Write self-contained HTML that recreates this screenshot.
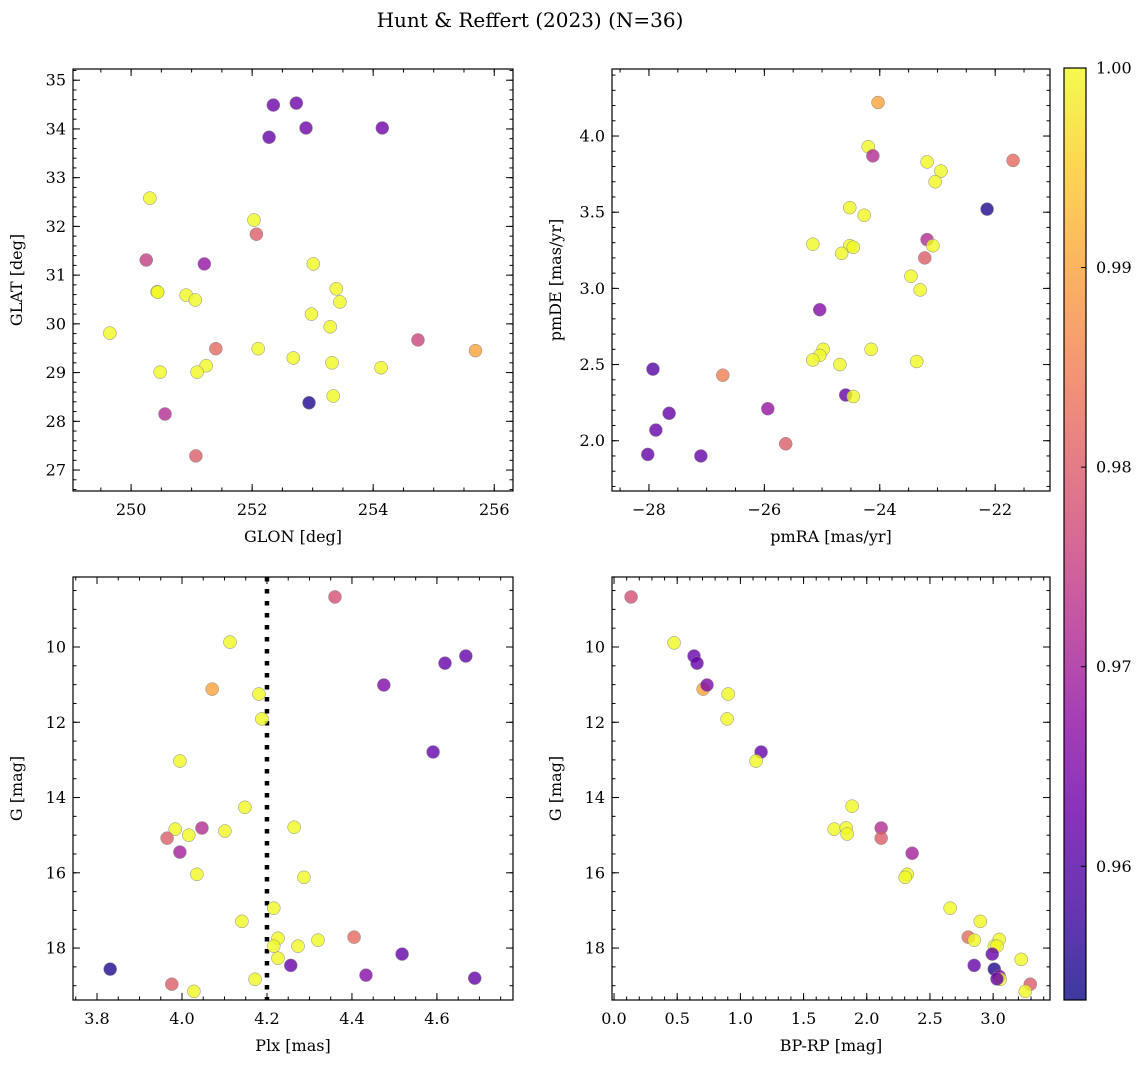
<!DOCTYPE html>
<html><head><meta charset="utf-8"><style>
html,body{margin:0;padding:0;background:#fff}
svg{display:block;font-family:"DejaVu Serif","Liberation Serif",serif}
</style></head><body>
<svg id="fig" width="1148" height="1068" viewBox="0 0 1148 1068" xmlns="http://www.w3.org/2000/svg">
<text x="530" y="27" text-anchor="middle" font-size="20">Hunt &amp; Reffert (2023) (N=36)</text>
</svg>
<script>
// Panel 1: GLON vs GLAT
const glon1=[252.35,252.73,252.28,252.89,254.15,250.31,252.03,252.07,250.25,251.21,253.01,250.43,250.44,250.91,251.06,253.39,253.45,252.98,253.29,249.65,254.74,255.69,251.40,252.10,252.68,253.32,251.24,254.13,250.48,251.09,253.34,252.94,250.56,251.07];
const glat1=[34.49,34.53,33.83,34.02,34.02,32.58,32.13,31.84,31.31,31.23,31.23,30.66,30.65,30.59,30.49,30.72,30.45,30.20,29.94,29.81,29.67,29.45,29.49,29.49,29.30,29.20,29.14,29.10,29.01,29.01,28.52,28.38,28.15,27.29];
const prob1=[0.963,0.963,0.962,0.963,0.963,1,1,0.98,0.975,0.968,1,1,1,1,1,1,1,1,1,1,0.976,0.99,0.982,1,1,1,1,1,1,1,1,0.955,0.972,0.98];
// Panel 2: pmRA vs pmDE
const pmra2=[-24.03,-24.20,-24.12,-21.69,-23.18,-22.94,-23.04,-24.52,-24.27,-22.14,-23.18,-25.16,-24.52,-24.46,-24.66,-23.08,-23.22,-23.46,-23.30,-25.04,-24.98,-25.04,-25.16,-24.15,-23.36,-24.69,-27.93,-26.72,-24.59,-24.46,-27.65,-25.94,-27.88,-25.63,-28.02,-27.10];
const pmde2=[4.22,3.93,3.87,3.84,3.83,3.77,3.70,3.53,3.48,3.52,3.32,3.29,3.28,3.27,3.23,3.28,3.20,3.08,2.99,2.86,2.60,2.56,2.53,2.60,2.52,2.50,2.47,2.43,2.30,2.29,2.18,2.21,2.07,1.98,1.91,1.90];
const prob2=[0.99,1,0.972,0.982,1,1,1,1,1,0.955,0.972,1,1,1,1,1,0.98,1,1,0.966,1,1,1,1,1,1,0.96,0.985,0.962,1,0.962,0.968,0.962,0.98,0.962,0.962];
// Panel 3: Plx vs G
const plx3=[4.360,4.113,4.619,4.668,4.071,4.181,4.475,4.188,4.591,3.995,4.148,3.984,4.047,4.101,4.264,4.016,3.965,3.995,4.035,4.287,4.216,4.141,4.320,4.405,4.226,4.273,4.216,4.518,4.226,4.256,3.831,4.433,4.172,4.689,3.976,4.028];
const g3=[8.67,9.87,10.43,10.24,11.12,11.25,11.01,11.91,12.79,13.03,14.26,14.84,14.81,14.89,14.79,15.00,15.08,15.45,16.04,16.12,16.94,17.29,17.79,17.71,17.74,17.95,17.95,18.16,18.27,18.46,18.56,18.72,18.83,18.80,18.96,19.15];
const prob3=[0.978,1,0.962,0.962,0.99,1,0.965,1,0.962,1,1,1,0.972,1,1,1,0.98,0.97,1,1,1,1,1,0.982,1,1,1,0.962,1,0.962,0.955,0.966,1,0.962,0.98,1];
const plxRef=[4.2];
// Panel 4: BP-RP vs G
const bprp4=[0.135,0.475,0.633,0.657,0.705,0.736,0.903,0.895,1.164,1.124,1.884,1.742,1.837,1.845,2.114,2.114,2.359,2.320,2.304,2.660,2.898,2.803,2.850,3.048,3.009,3.030,2.993,3.222,2.850,3.009,3.048,3.056,3.030,3.294,3.254];
const g4=[8.67,9.89,10.24,10.43,11.12,11.01,11.25,11.91,12.79,13.03,14.23,14.84,14.81,14.97,14.81,15.08,15.48,16.04,16.12,16.94,17.29,17.71,17.79,17.77,17.95,17.95,18.16,18.30,18.46,18.56,18.75,18.83,18.82,18.96,19.15];
const prob4=[0.978,1,0.962,0.962,0.99,0.965,1,1,0.962,1,1,1,1,1,0.972,0.98,0.97,1,1,1,1,0.982,1,1,1,1,0.962,1,0.962,0.955,0.966,1,0.962,0.98,1];
const cbTicks=[0.96,0.97,0.98,0.99,1.00];

const NS='http://www.w3.org/2000/svg';
const svg=document.getElementById('fig');
const PMIN=0.9533,PMAX=1.0;
const stops=['#0d0887','#41049d','#6a00a8','#8f0da4','#b12a90','#cc4778','#e16462','#f2844b','#fca636','#fcce25','#f0f921'];
function hex(h){return [1,3,5].map(i=>parseInt(h.substr(i,2),16));}
function plasma(t){t=Math.max(0,Math.min(1,t));const f=t*10,i=Math.min(9,Math.floor(f)),r=f-i;const a=hex(stops[i]),b=hex(stops[i+1]);return 'rgb('+a.map((v,k)=>Math.round(v+(b[k]-v)*r)).join(',')+')';}
function el(tag,attrs,parent){const e=document.createElementNS(NS,tag);for(const k in attrs)e.setAttribute(k,attrs[k]);(parent||svg).appendChild(e);return e;}
function fmt(v,d){return v.toFixed(d).replace('-','\u2212');}

function panel(o){
  const g=el('g',{});
  
  
  const X=v=>o.l+(v-o.x0)/(o.x1-o.x0)*(o.r-o.l);
  const Y=o.inv?v=>o.t+(v-o.y0)/(o.y1-o.y0)*(o.b-o.t):v=>o.b-(v-o.y0)/(o.y1-o.y0)*(o.b-o.t);
  const frame=el('rect',{x:o.l,y:o.t,width:o.r-o.l,height:o.b-o.t,fill:'none',stroke:'#000','stroke-width':1.2},g);
  
  
  const eps=1e-9;
  function ticks(a0,a1,step,len,isX,label,dec){
    const s=Math.ceil(Math.min(a0,a1)/step-eps),e=Math.floor(Math.max(a0,a1)/step+eps);
    for(let i=s;i<=e;i++){const v=i*step;
      if(isX){const x=X(v);el('line',{x1:x,x2:x,y1:o.b,y2:o.b-len,stroke:'#000','stroke-width':1},g);el('line',{x1:x,x2:x,y1:o.t,y2:o.t+len,stroke:'#000','stroke-width':1},g);
        if(label){const t=el('text',{x:x,y:o.b+24,'text-anchor':'middle','font-size':16},g);t.textContent=fmt(v,dec);}}
      else{const y=Y(v);el('line',{x1:o.l,x2:o.l+len,y1:y,y2:y,stroke:'#000','stroke-width':1},g);el('line',{x1:o.r,x2:o.r-len,y1:y,y2:y,stroke:'#000','stroke-width':1},g);
        if(label){const t=el('text',{x:o.l-7,y:y+5.5,'text-anchor':'end','font-size':16},g);t.textContent=fmt(v,dec);}}
    }
  }
  ticks(o.x0,o.x1,o.xmin,3.5,true,false);
  ticks(o.x0,o.x1,o.xmaj,7,true,true,o.xd);
  ticks(o.y0,o.y1,o.ymin,3.5,false,false);
  ticks(o.y0,o.y1,o.ymaj,7,false,true,o.yd);
  const xl=el('text',{x:(o.l+o.r)/2,y:o.b+51,'text-anchor':'middle','font-size':16},g);xl.textContent=o.xlabel;
  
  
  const cy=(o.t+o.b)/2, ax=o.l-51;
  const yl=el('text',{x:ax,y:cy,'text-anchor':'middle','font-size':16,transform:'rotate(-90 '+ax+' '+cy+')'},g);yl.textContent=o.ylabel;
  
  
  if(o.vline){o.vline.forEach(v=>{const ln=el('line',{x1:X(v),x2:X(v),y1:o.t,y2:o.b,stroke:'#000','stroke-width':4.5,'stroke-dasharray':'4.5 7.5'},g);
    
    });}
  for(let i=0;i<o.xs.length;i++){
    const c=el('circle',{cx:X(o.xs[i]),cy:Y(o.ys[i]),r:6.5,fill:plasma((o.ps[i]-PMIN)/(PMAX-PMIN)),'fill-opacity':0.8,stroke:'#888','stroke-width':0.5},g);
    
    
  }
}
panel({name:'glon-glat-panel',l:73,r:513,t:69,b:491,x0:249.04,x1:256.31,y0:26.57,y1:35.23,xmaj:2,xmin:0.5,ymaj:1,ymin:0.2,xd:0,yd:0,xlabel:'GLON [deg]',ylabel:'GLAT [deg]',xs:glon1,ys:glat1,ps:prob1});
panel({name:'proper-motion-panel',l:612,r:1050,t:69,b:491,x0:-28.64,x1:-21.05,y0:1.67,y1:4.44,xmaj:2,xmin:0.5,ymaj:0.5,ymin:0.1,xd:0,yd:1,xlabel:'pmRA [mas/yr]',ylabel:'pmDE [mas/yr]',xs:pmra2,ys:pmde2,ps:prob2});
panel({name:'parallax-magnitude-panel',l:73,r:513,t:577,b:1000,x0:3.7435,x1:4.779,y0:8.14,y1:19.38,inv:true,xmaj:0.2,xmin:0.05,ymaj:2,ymin:0.5,xd:1,yd:0,xlabel:'Plx [mas]',ylabel:'G [mag]',xs:plx3,ys:g3,ps:prob3,vline:plxRef});
panel({name:'color-magnitude-panel',l:612,r:1050,t:577,b:1000,x0:-0.016,x1:3.45,y0:8.14,y1:19.38,inv:true,xmaj:0.5,xmin:0.1,ymaj:2,ymin:0.5,xd:1,yd:0,xlabel:'BP-RP [mag]',ylabel:'G [mag]',xs:bprp4,ys:g4,ps:prob4});

const cb=el('g',{});


const defs=el('defs',{},cb);
const lg=el('linearGradient',{id:'cbg',x1:0,y1:1,x2:0,y2:0},defs);
for(let i=0;i<=20;i++){el('stop',{offset:i/20,'stop-color':plasma(i/20),'stop-opacity':0.8},lg);}
const cbT=68,cbB=1000,cbL=1064,cbR=1086;
el('rect',{x:cbL,y:cbT,width:cbR-cbL,height:cbB-cbT,fill:'url(#cbg)',stroke:'#000','stroke-width':1.2},cb);
cbTicks.forEach(v=>{const y=cbB-(v-PMIN)/(PMAX-PMIN)*(cbB-cbT);
  el('line',{x1:cbR,x2:cbR-5,y1:y,y2:y,stroke:'#000','stroke-width':1},cb);
  const t=el('text',{x:cbR+10,y:y+5.5,'font-size':16},cb);t.textContent=v.toFixed(2);
  
  
});
</script>
</body></html>
